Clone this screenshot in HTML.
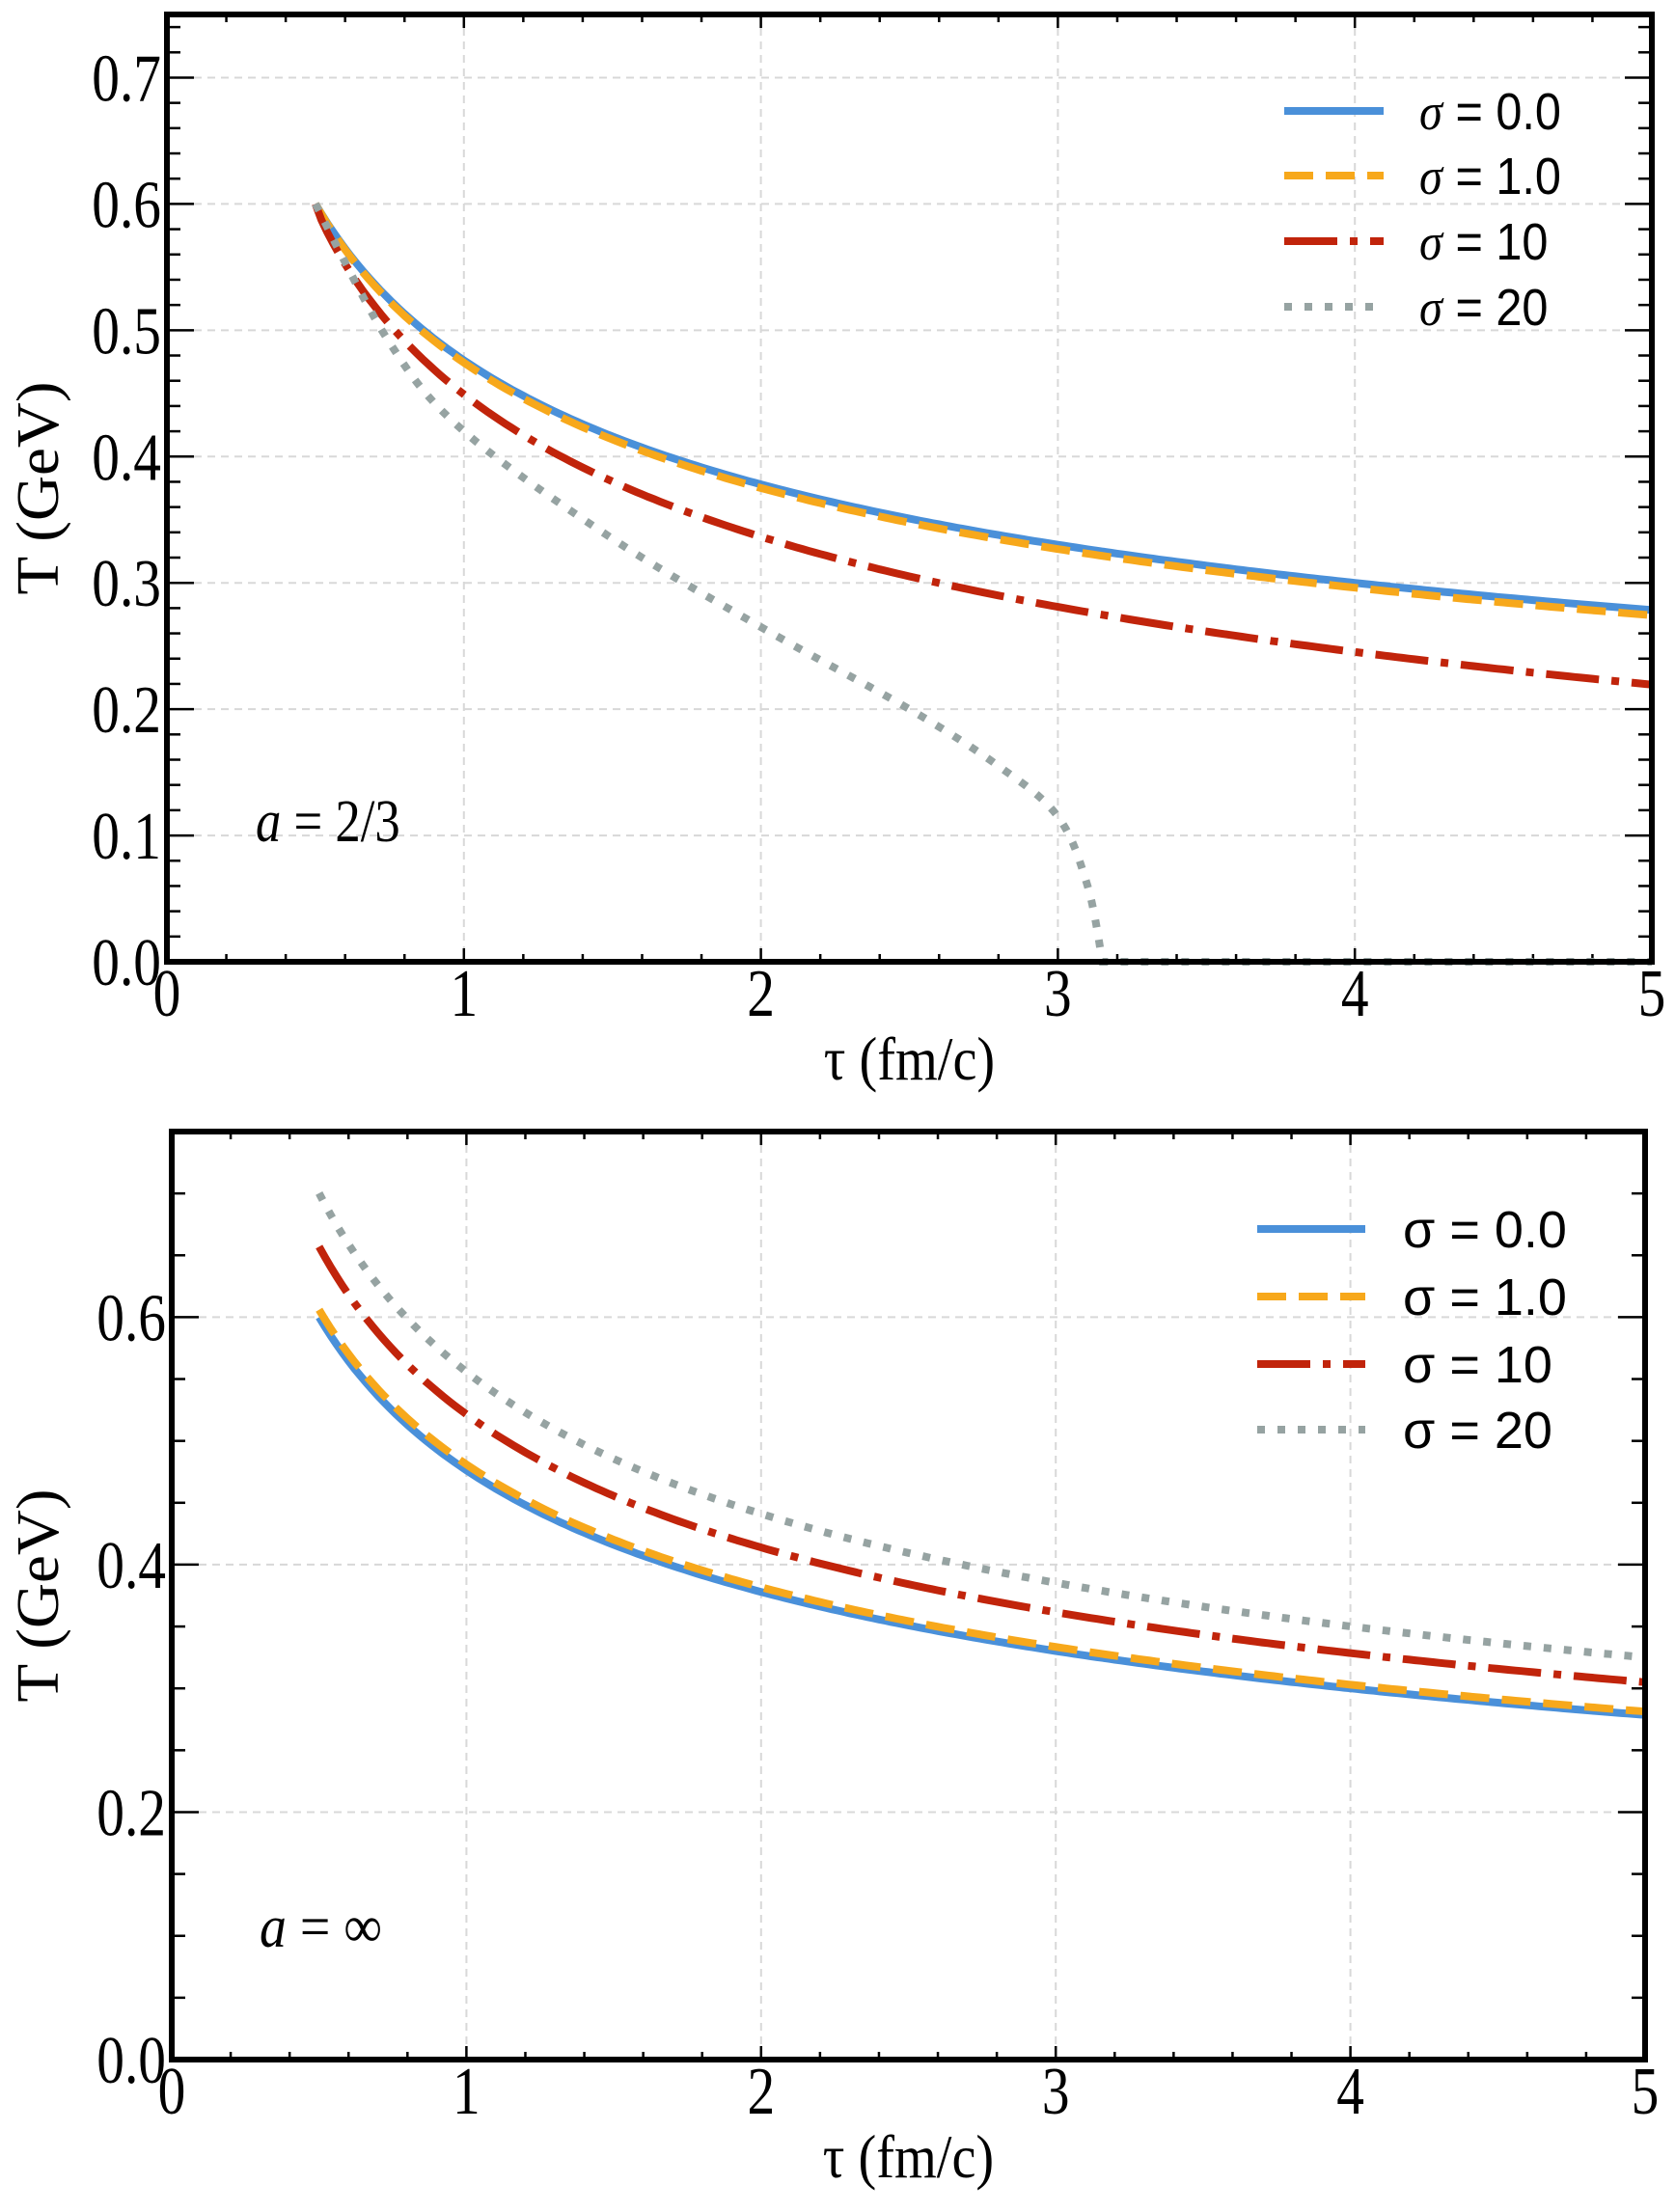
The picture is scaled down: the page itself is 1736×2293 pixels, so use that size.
<!DOCTYPE html>
<html><head><meta charset="utf-8"><style>
html,body{margin:0;padding:0;background:#fff;}
svg{display:block;}
</style></head><body>
<svg id="s" width="1736" height="2293" xmlns="http://www.w3.org/2000/svg"></svg>
<script>
const S=document.getElementById('s');let h='';
function add(x){h+=x;}
function T(x,y,str,size,anchor,sx,fam,extra){
 return `<text transform="translate(${x},${y}) scale(${sx},1)" font-family="${fam||'Liberation Serif,serif'}" font-size="${size}" text-anchor="${anchor||'start'}" ${extra||''}>${str}</text>`;}
function panel(P){
 const {x0,x1,y0,y1,ymax,ymaj,ymin}=P;
 const X=t=>x0+(x1-x0)*t/5, Y=v=>y0-(y0-y1)*v/ymax;
 for(let t=1;t<5;t++)add(`<line x1="${X(t)}" y1="${y1}" x2="${X(t)}" y2="${y0}" stroke="#d8d8d8" stroke-width="2" stroke-dasharray="8,6"/>`);
 for(let v=ymaj;v<ymax-1e-9;v+=ymaj)add(`<line x1="${x0}" y1="${Y(v)}" x2="${x1}" y2="${Y(v)}" stroke="#d8d8d8" stroke-width="2" stroke-dasharray="8,6"/>`);
 for(let t=0;t<=5.0001;t+=0.2){const maj=Math.abs(t-Math.round(t))<1e-6;const L=maj?14:8;
  add(`<line x1="${X(t)}" y1="${y0}" x2="${X(t)}" y2="${y0-L}" stroke="#000" stroke-width="2.5"/><line x1="${X(t)}" y1="${y1}" x2="${X(t)}" y2="${y1+L}" stroke="#000" stroke-width="2.5"/>`);}
 for(let v=0;v<=ymax+1e-9;v+=ymin){const maj=Math.abs(v/ymaj-Math.round(v/ymaj))<1e-6;const L=maj?28:14;
  add(`<line x1="${x0}" y1="${Y(v)}" x2="${x0+L}" y2="${Y(v)}" stroke="#000" stroke-width="2.5"/><line x1="${x1}" y1="${Y(v)}" x2="${x1-L}" y2="${Y(v)}" stroke="#000" stroke-width="2.5"/>`);}
 for(let t=0;t<=5;t++)add(T(X(t),y0+56,t,70,'middle',0.82));
 for(let v=0;v<ymax-1e-9;v+=ymaj)add(T(x0-6,Y(v)+24,v.toFixed(1),70,'end',0.82));
 add(T((x0+x1)/2,y0+122,'τ (fm/c)',64,'middle',0.88));
 add(`<text transform="translate(60,${(y0+y1)/2}) rotate(-90) scale(1.05,1)" font-family="Liberation Serif,serif" font-size="62" text-anchor="middle">T (GeV)</text>`);
 const styles=[['#4a90d9',''],['#f7a81b','30,13'],['#c1240b','55,13,8,13'],['#96a3a2','8,13']];
 P.curves.forEach((f,i)=>{let pts=[];
  if(typeof f==='function'){for(let t=0.5;t<=5.0001;t+=0.02)pts.push(X(t).toFixed(1)+','+Y(f(t)).toFixed(1));}
  else pts=f.map(p=>X(p[0]).toFixed(1)+','+Y(p[1]).toFixed(1));
  add(`<polyline points="${pts.join(' ')}" fill="none" stroke="${styles[i][0]}" stroke-width="8" ${styles[i][1]?'stroke-dasharray="'+styles[i][1]+'"':''}/>`);
 });
 P.leg.forEach((ly,i)=>{add(`<line x1="${P.lx1}" y1="${ly}" x2="${P.lx2}" y2="${ly}" stroke="${styles[i][0]}" stroke-width="8" ${styles[i][1]?'stroke-dasharray="'+styles[i][1]+'"':''}/>`);
  add(T(P.tx,ly+19,`<tspan ${P.it?'font-style="italic" font-family="Liberation Serif,serif"':''}>σ</tspan> = ${['0.0','1.0','10','20'][i]}`,54,'start',P.it?0.9:1,'Liberation Sans,sans-serif'));});
 add(P.ann);
 add(`<rect x="${x0}" y="${y1}" width="${x1-x0}" height="${y0-y1}" fill="none" stroke="#000" stroke-width="6"/>`);
}
const B=t=>0.6*Math.pow(0.5/t,1/3);
function interp(pts){let out=[];for(let i=0;i<pts.length-1;i++){const p0=pts[Math.max(0,i-1)],p1=pts[i],p2=pts[i+1],p3=pts[Math.min(pts.length-1,i+2)];
 for(let k=0;k<10;k++){const s=k/10,s2=s*s,s3=s2*s;const c=(a,b,c2,d)=>0.5*(2*b+(-a+c2)*s+(2*a-5*b+4*c2-d)*s2+(-a+3*b-3*c2+d)*s3);out.push([c(p0[0],p1[0],p2[0],p3[0]),c(p0[1],p1[1],p2[1],p3[1])]);}}
 out.push(pts[pts.length-1]);return out;}
let g=interp([[0.5,0.6],[0.75,0.49],[1,0.42],[1.5,0.335],[2,0.265],[2.5,0.2],[2.8,0.155],[3,0.115],[3.1,0.06],[3.15,0.0]]);
g.push([5,0.0]);
panel({x0:173,x1:1712,y0:997,y1:15,ymax:0.75,ymaj:0.1,ymin:0.02,
 curves:[B,t=>B(t)*(1-0.006*Math.pow(t-0.5,0.6)),t=>B(t)*(1-0.086*Math.pow(t-0.5,0.6)),g],
 leg:[115,182,250,318],lx1:1331,lx2:1434,tx:1471,it:true,
 ann:T(265,872,'<tspan font-style="italic">a</tspan> = 2/3',62,'start',0.85)});
panel({x0:178,x1:1705,y0:2135,y1:1173,ymax:0.75,ymaj:0.2,ymin:0.05,
 curves:[B,t=>B(t)*1.01,t=>B(t)*1.095,t=>B(t)*1.167],
 leg:[1274,1344,1414,1482],lx1:1303,lx2:1415,tx:1454,it:false,
 ann:T(269,2018,'<tspan font-style="italic">a</tspan> = ∞',62,'start',0.9)});
S.innerHTML=h;
</script>
</body></html>
